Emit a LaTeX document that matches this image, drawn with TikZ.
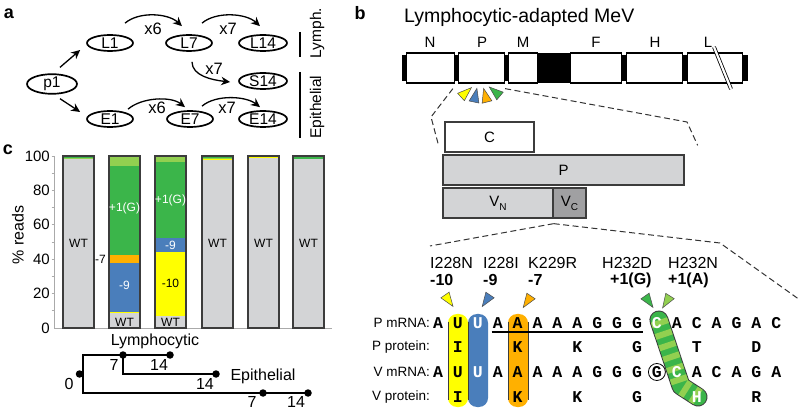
\documentclass[tikz,border=0pt]{standalone}
\usepackage{fontspec}
\setmainfont{Liberation Sans}
\newfontfamily\monof{Liberation Mono}
\usetikzlibrary{shapes.geometric,arrows.meta,calc}
\definecolor{bargray}{RGB}{211,212,214}
\definecolor{vcgray}{RGB}{160,160,162}
\definecolor{mgreen}{RGB}{59,181,74}
\definecolor{lgreen}{RGB}{146,208,80}
\definecolor{mblue}{RGB}{74,126,187}
\definecolor{morange}{RGB}{255,176,0}
\definecolor{myellow}{RGB}{255,255,0}
\definecolor{edge}{RGB}{60,60,60}
\definecolor{axgray}{RGB}{170,170,170}
\newcommand\fs[1]{\fontsize{#1}{#1}\selectfont}
\newcommand\mkr[4]{\filldraw[mk,fill=#4] (#1,#2) +({#3+90}:5pt) -- +(#3:14pt) -- +({#3-90}:5pt) -- cycle;}
\newcommand\seg[4]{\fill[#4] (#1,{328-1.72*#2}) rectangle ({#1+31},{328-1.72*#3});}
\begin{document}
\begin{tikzpicture}[x=1pt,y=-1pt,
  ell/.style={ellipse, draw, line width=1.7pt, minimum width=46pt, minimum height=16pt, inner sep=0pt, font=\fs{15.5}},
  arr/.style={-{Stealth[length=9pt,width=8.5pt]}, line width=1.3pt},
  txt/.style={inner sep=0pt, font=\fs{#1}},
  mb/.style={inner sep=0pt, anchor=west, font=\fs{16}\bfseries},
  plab/.style={inner sep=0pt, font=\fs{18}\bfseries},
  gbox/.style={draw, fill=white, line width=1.3pt, inner sep=0pt, minimum height=30pt},
  pbox/.style={draw=edge, line width=1.3pt, inner sep=0pt, minimum height=30pt, font=\fs{15}},
  dsh/.style={dash pattern=on 6pt off 3.5pt, line width=1pt, draw=black!80},
  mk/.style={draw=black!70, line width=0.5pt},
  sq/.style={inner sep=0pt, font=\fs{16.5}\monof\bfseries},
  rl/.style={inner sep=0pt, anchor=east, font=\fs{13.5}},
  barb/.style={draw=edge, line width=1.2pt},
  bl/.style={inner sep=0pt, font=\fs{12}},
  dot/.style={circle, fill, inner sep=0pt, minimum size=7.5pt},
  tl/.style={line width=1.4pt},
]
\useasboundingbox (0,0) rectangle (800,411);

% ---------------- panel a ----------------
\node[plab] (la) at (9,14) {a};
\node[ell, minimum width=50pt] (p1) at (52,84) {p1};
\node[ell] (L1) at (110,43) {L1};
\node[ell] (L7) at (189,43) {L7};
\node[ell, minimum width=48pt] (L14) at (263,43) {L14};
\node[ell, minimum width=48pt] (S14) at (263,81) {S14};
\node[ell] (E1) at (110,119) {E1};
\node[ell] (E7) at (190,119) {E7};
\node[ell, minimum width=48pt] (E14) at (263,119) {E14};

\draw[arr] ([shift={(8,-6)}]p1.north) -- ([shift={(-6,7)}]L1.west);
\draw[arr] ([shift={(8,4)}]p1.south) -- ([shift={(-6,-7)}]E1.west);
\draw[arr] ([shift={(15,-11)}]L1.north) .. controls +(14,-12) and +(-14,-13) .. ([shift={(-7,-8)}]L7.north);
\draw[arr] ([shift={(13,-11)}]L7.north) .. controls +(14,-12) and +(-14,-13) .. ([shift={(-3,-8)}]L14.north);
\draw[arr] ([shift={(3,10)}]L7.south) .. controls +(0,14) and +(-18,-2) .. ([shift={(-8,1)}]S14.west);
\draw[arr] ([shift={(18,-1)}]E1.north) .. controls +(14,-12) and +(-14,-11) .. ([shift={(-5,-3)}]E7.north);
\draw[arr] ([shift={(12,-4)}]E7.north) .. controls +(14,-12) and +(-14,-11) .. ([shift={(-3,-3)}]E14.north);
\node[txt=16.5] (x6a) at (153,29) {x6};
\node[txt=16.5] (x7a) at (228,29) {x7};
\node[txt=16.5] (x7b) at (214,69) {x7};
\node[txt=16.5] (x6b) at (157,108) {x6};
\node[txt=16.5] (x7c) at (227,108) {x7};

\draw[line width=1.1pt] (300,32) -- (300,57);
\draw[line width=1.1pt] (300,72) -- (300,138);
\node[txt=15.5, rotate=90] (lym) at (317,33) {Lymph.};
\node[txt=15.5, rotate=90] (epi) at (317,107) {Epithelial};

% ---------------- panel b ----------------
\node[plab] (lb) at (360,13) {b};
\node[txt=19.5, anchor=west] (title) at (404,17) {Lymphocytic-adapted MeV};

\fill (402,55) rectangle (748,81);
\fill (538,53) rectangle (570,83);
\node[gbox, minimum width=48pt] (gN) at (430.5,68) {};
\node[gbox, minimum width=46pt] (gP) at (481.5,68) {};
\node[gbox, minimum width=29pt] (gM) at (523,68) {};
\node[gbox, minimum width=51pt] (gF) at (596,68) {};
\node[gbox, minimum width=56pt] (gH) at (654.5,68) {};
\node[gbox, minimum width=55pt] (gL) at (715,68) {};
\node[txt=15] (nN) at (430,42) {N};
\node[txt=15] (nP) at (482,42) {P};
\node[txt=15] (nM) at (523,42) {M};
\node[txt=15] (nF) at (596,42) {F};
\node[txt=15] (nH) at (655,42) {H};
\node[txt=15] (nL) at (708,42) {L};
\draw[line width=0.8pt, double=white, double distance=2.2pt] (714,47) -- (731,89);

\mkr{461}{97}{42}{myellow}
\mkr{474}{102}{78}{mblue}
\mkr{487}{102}{104}{morange}
\mkr{500}{96}{140}{mgreen}

\node[pbox, fill=white, minimum width=89pt] (cC) at (489.5,137) {C};
\node[pbox, fill=bargray, minimum width=241pt] (cP) at (563.5,170) {P};
\node[pbox, fill=bargray, minimum width=110pt] (cVN) at (498,203) {V\raisebox{-0.5ex}{\fs{10}N}};
\node[pbox, fill=vcgray, minimum width=33pt] (cVC) at (569.5,203) {V\raisebox{-0.5ex}{\fs{10}C}};

\draw[dsh] ([shift={(-5,5)}]gP.south west) -- (431,117) -- ([shift={(-6,-8)}]cC.south west);
\draw[dsh] ([shift={(0,5)}]gP.south east) -- (687,122) -- ([shift={(13,-9)}]cP.north east);
\coordinate (apx) at ([shift={(0,5)}]cVN.south east);
\draw[dsh] (apx) -- (430,246);
\draw[dsh] (apx) -- (720,243) -- (800,300);

\node[txt=16, anchor=west] (m1) at (430,263) {I228N};
\node[mb] (d1) at (430,280) {-10};
\node[txt=16, anchor=west] (m2) at (483,263) {I228I};
\node[mb] (d2) at (483,280) {-9};
\node[txt=16, anchor=west] (m3) at (528,263) {K229R};
\node[mb] (d3) at (528,280) {-7};
\node[txt=16, anchor=west] (m4) at (602,263) {H232D};
\node[mb] (d4) at (610,280) {+1(G)};
\node[txt=16, anchor=west] (m5) at (668,263) {H232N};
\node[mb] (d5) at (668,280) {+1(A)};

% colored bars behind sequence
\fill[myellow, rounded corners=9pt] (448,314) rectangle (468,407);
\fill[mblue, rounded corners=9pt] (468,314) rectangle (488,407);
\fill[morange, rounded corners=9pt] (508,314) rectangle (528,407);
\draw[edge, line width=0.9pt] (448,322) -- (448,400) (468,322) -- (468,400) (508,322) -- (508,400) (528,322) -- (528,400);

% green band
\coordinate (gb1) at (658.9,320);
\coordinate (gb2) at (681,386);
\coordinate (gb3) at (698,397);
\draw[edge, line width=19pt, line cap=round, line join=round] (gb1) -- (gb2) -- (gb3);
\draw[mgreen, line width=17pt, line cap=round, line join=round] (gb1) -- (gb2) -- (gb3);
\draw[lgreen, line width=17pt, line cap=butt, dash pattern=on 6pt off 6pt] (gb1) -- (gb2) -- (gb3);

% markers above sequence
\mkr{445}{295}{-55}{myellow}
\mkr{490}{295}{-124}{mblue}
\mkr{531}{296}{-124}{morange}
\mkr{645}{296}{-55}{mgreen}
\mkr{670}{296}{-122}{lgreen}

% row labels
\node[rl] (lr1) at (430,323) {P mRNA:};
\node[rl] (lr2) at (430,347) {P protein:};
\node[rl] (lr3) at (430,372) {V mRNA:};
\node[rl] (lr4) at (430,397) {V protein:};

% sequences
\foreach \c/\col [count=\i from 0] in {A/black,U/black,U/white,A/black,A/black,A/black,A/black,A/black,G/black,G/black,G/black,C/white,A/black,C/black,A/black,G/black,A/black,C/black}
  \node[sq, text=\col] (ra\i) at ({438+19.9*\i},323) {\c};
\foreach \c/\i in {I/1,K/4,K/7,G/10,T/13,D/16}
  \node[sq] (rb\i) at ({438+19.9*\i},347) {\c};
\foreach \c/\col [count=\i from 0] in {A/black,U/black,U/white,A/black,A/black,A/black,A/black,A/black,G/black,G/black,G/black,G/black,C/white,A/black,C/black,A/black,G/black,A/black}
  \node[sq, text=\col] (rc\i) at ({438+19.9*\i},372) {\c};
\foreach \c/\col/\i in {I/black/1,K/black/4,K/black/7,G/black/10,H/white/13,R/black/16}
  \node[sq, text=\col] (rd\i) at ({438+19.9*\i},397) {\c};
\node[circle, draw, line width=0.8pt, minimum size=17pt, inner sep=0pt] (circG) at (rc11) {};
\draw[line width=1.2pt] ([shift={(-6,9)}]ra3.center) -- ([shift={(6,9)}]ra10.center);

% ---------------- panel c ----------------
\node[plab] (lc) at (8,150) {c};
\node[txt=16, rotate=90] (yl) at (18,235) {\% reads};
\foreach \v in {0,20,...,100}
  \node[txt=15, anchor=east] at (50,{328-1.72*\v}) {\v};
\foreach \v in {10,20,...,100}
  \draw[axgray, line width=0.7pt] (51.5,{328-1.72*\v}) -- (54,{328-1.72*\v});
\draw[axgray, line width=0.8pt] (54,156) -- (54,328) -- (332,328);

% bar 1
\seg{63}{0}{98.3}{bargray}\seg{63}{98.3}{99}{lgreen}\seg{63}{99}{100}{mgreen}
\draw[barb] (63,328) rectangle (94,156);
% bar 2
\seg{109}{0}{8.7}{bargray}\seg{109}{8.7}{9.5}{myellow}\seg{109}{9.5}{37.8}{mblue}
\seg{109}{37.8}{42.4}{morange}\seg{109}{42.4}{94.3}{mgreen}\seg{109}{94.3}{99.3}{lgreen}\seg{109}{99.3}{100}{bargray}
\draw[barb] (109,328) rectangle (140,156);
% bar 3
\seg{155}{0}{7.2}{bargray}\seg{155}{7.2}{44.4}{myellow}\seg{155}{44.4}{52.1}{mblue}
\seg{155}{52.1}{96.7}{mgreen}\seg{155}{96.7}{99.3}{lgreen}\seg{155}{99.3}{100}{bargray}
\draw[barb] (155,328) rectangle (186,156);
% bar 4
\seg{202}{0}{97.7}{bargray}\seg{202}{97.7}{98.2}{myellow}\seg{202}{98.2}{98.8}{lgreen}\seg{202}{98.8}{100}{mgreen}
\draw[barb] (202,328) rectangle (233,156);
% bar 5
\seg{248}{0}{98.8}{bargray}\seg{248}{98.8}{99.3}{myellow}\seg{248}{99.3}{100}{mgreen}
\draw[barb] (248,328) rectangle (279,156);
% bar 6
\seg{293}{0}{98.2}{bargray}\seg{293}{98.2}{99.4}{mgreen}\seg{293}{99.4}{100}{bargray}
\draw[barb] (293,328) rectangle (324,156);

\node[bl] (w1) at (78.5,243) {WT};
\node[bl, text=white] (g2) at (124.5,208) {+1(G)};
\node[bl, text=white] (b2) at (124.5,285) {-9};
\node[bl] (w2) at (124.5,322) {WT};
\node[bl, anchor=east] (o2) at (106,259) {-7};
\node[bl, text=white] (g3) at (170.5,200) {+1(G)};
\node[bl, text=white] (b3) at (170.5,245) {-9};
\node[bl] (y3) at (170.5,283) {-10};
\node[bl] (w3) at (170.5,322) {WT};
\node[bl] (w4) at (217.5,243) {WT};
\node[bl] (w5) at (263.5,243) {WT};
\node[bl] (w6) at (308.5,243) {WT};

% tree
\node[txt=16] (tly) at (155,341) {Lymphocytic};
\node[txt=16] (tep) at (263,376) {Epithelial};
\coordinate (tv1) at (83,355);
\coordinate (tv2) at (83,393);
\node[dot] (t0) at (79.5,374) {};
\node[dot] (t7a) at (123,355) {};
\node[dot] (t14a) at (170,355) {};
\node[dot] (t14b) at (216,374) {};
\node[dot] (t7b) at (263,393) {};
\node[dot] (t14c) at (308,393) {};
\draw[tl] (t14a.center) -- (tv1) -- (tv2) -- (t14c.center);
\draw[tl] (t7a.center) |- (t14b.center);
\node[txt=16] (n0) at (69,384) {0};
\node[txt=16] (n7a) at (114,365) {7};
\node[txt=16] (n14a) at (159,365) {14};
\node[txt=16] (n14b) at (205,384) {14};
\node[txt=16] (n7b) at (252,402) {7};
\node[txt=16] (n14c) at (296,402) {14};
\end{tikzpicture}
\end{document}
